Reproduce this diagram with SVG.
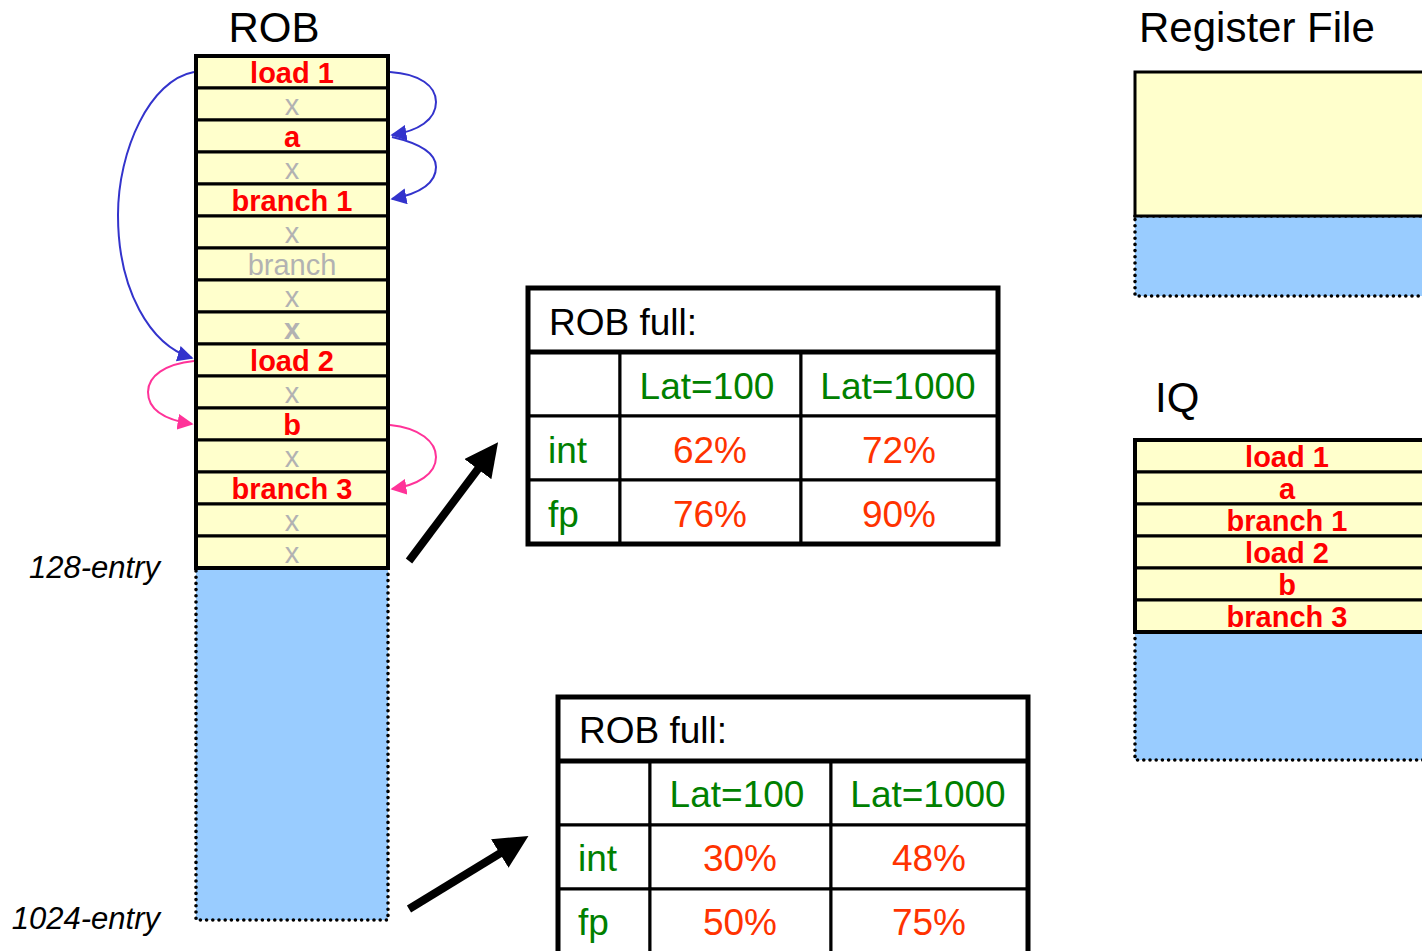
<svg xmlns="http://www.w3.org/2000/svg" width="1422" height="951" viewBox="0 0 1422 951">
  <defs>
    <style>
      .title { font-family: "Liberation Sans", Arial, sans-serif; font-size: 42px; fill: #000; }
      .cell { fill: #FFFFCC; stroke: #000; stroke-width: 3; }
      .ext { fill: #99CCFF; stroke: #000; stroke-width: 3.6; stroke-dasharray: 0 6.2; stroke-linecap: round; }
      .frame { fill: none; stroke: #000; stroke-width: 4; }
      .op { font-family: "Liberation Sans", Arial, sans-serif; font-size: 29px; font-weight: bold; fill: #FF0000; text-anchor: middle; }
      .nop { font-family: "Liberation Sans", Arial, sans-serif; font-size: 29px; fill: #B2B2B2; text-anchor: middle; }
      .size { font-family: "Liberation Sans", Arial, sans-serif; font-size: 31px; font-style: italic; fill: #000; text-anchor: end; }
      .tbl { fill: #fff; stroke: #000; stroke-width: 3; }
      .tout { fill: none; stroke: #000; stroke-width: 5; }
      .thead { font-family: "Liberation Sans", Arial, sans-serif; font-size: 37px; fill: #000; }
      .tg { font-family: "Liberation Sans", Arial, sans-serif; font-size: 37px; fill: #008000; }
      .tgc { font-family: "Liberation Sans", Arial, sans-serif; font-size: 37px; fill: #008000; text-anchor: middle; }
      .tr { font-family: "Liberation Sans", Arial, sans-serif; font-size: 37px; fill: #FF3300; text-anchor: middle; }
      .dep-b { fill: none; stroke: #3333CC; stroke-width: 2; }
      .dep-p { fill: none; stroke: #FF3399; stroke-width: 2; }
      .big { fill: none; stroke: #000; stroke-width: 8; }
    </style>
    <marker id="ahB2" viewBox="0 0 10 10" refX="9" refY="5" markerWidth="16" markerHeight="16" markerUnits="userSpaceOnUse" orient="auto">
      <path d="M0,0 L10,5 L0,10 z" fill="#3333CC"/>
    </marker>
    <marker id="ahP" viewBox="0 0 10 10" refX="9" refY="5" markerWidth="16" markerHeight="16" markerUnits="userSpaceOnUse" orient="auto">
      <path d="M0,0 L10,5 L0,10 z" fill="#FF3399"/>
    </marker>
    <marker id="ahK" viewBox="0 0 10 10" refX="6" refY="5" markerWidth="4.2" markerHeight="4.2" orient="auto">
      <path d="M0,0 L10,5 L0,10 z" fill="#000"/>
    </marker>
  </defs>

  <!-- Reorder buffer -->
  <g id="rob">
    <text class="title" x="274" y="42" text-anchor="middle">ROB</text>
    <rect class="ext" x="196" y="568" width="192" height="352"/>
    <rect class="cell" x="196" y="56" width="192" height="32"/>
    <rect class="cell" x="196" y="88" width="192" height="32"/>
    <rect class="cell" x="196" y="120" width="192" height="32"/>
    <rect class="cell" x="196" y="152" width="192" height="32"/>
    <rect class="cell" x="196" y="184" width="192" height="32"/>
    <rect class="cell" x="196" y="216" width="192" height="32"/>
    <rect class="cell" x="196" y="248" width="192" height="32"/>
    <rect class="cell" x="196" y="280" width="192" height="32"/>
    <rect class="cell" x="196" y="312" width="192" height="32"/>
    <rect class="cell" x="196" y="344" width="192" height="32"/>
    <rect class="cell" x="196" y="376" width="192" height="32"/>
    <rect class="cell" x="196" y="408" width="192" height="32"/>
    <rect class="cell" x="196" y="440" width="192" height="32"/>
    <rect class="cell" x="196" y="472" width="192" height="32"/>
    <rect class="cell" x="196" y="504" width="192" height="32"/>
    <rect class="cell" x="196" y="536" width="192" height="32"/>
    <rect class="frame" x="196" y="56" width="192" height="512"/>
    <text class="op" x="292" y="83">load 1</text>
    <text class="nop" x="292" y="115">x</text>
    <text class="op" x="292" y="147">a</text>
    <text class="nop" x="292" y="179">x</text>
    <text class="op" x="292" y="211">branch 1</text>
    <text class="nop" x="292" y="243">x</text>
    <text class="nop" x="292" y="275">branch</text>
    <text class="nop" x="292" y="307">x</text>
    <text class="nop" x="292" y="339" font-weight="bold">x</text>
    <text class="op" x="292" y="371">load 2</text>
    <text class="nop" x="292" y="403">x</text>
    <text class="op" x="292" y="435">b</text>
    <text class="nop" x="292" y="467">x</text>
    <text class="op" x="292" y="499">branch 3</text>
    <text class="nop" x="292" y="531">x</text>
    <text class="nop" x="292" y="563">x</text>
  </g>

  <g id="rob-sizes">
    <text class="size" x="160" y="578">128-entry</text>
    <text class="size" x="160" y="929">1024-entry</text>
  </g>

  <!-- Register file -->
  <g id="regfile">
    <text class="title" x="1139" y="42">Register File</text>
    <rect class="ext" x="1135" y="216" width="300" height="80"/>
    <rect class="cell" x="1135" y="72" width="300" height="144" stroke-width="4"/>
  </g>

  <!-- Issue queue -->
  <g id="iq">
    <text class="title" x="1155" y="412">IQ</text>
    <rect class="ext" x="1135" y="632" width="300" height="128"/>
    <rect class="cell" x="1135" y="440" width="300" height="32"/>
    <rect class="cell" x="1135" y="472" width="300" height="32"/>
    <rect class="cell" x="1135" y="504" width="300" height="32"/>
    <rect class="cell" x="1135" y="536" width="300" height="32"/>
    <rect class="cell" x="1135" y="568" width="300" height="32"/>
    <rect class="cell" x="1135" y="600" width="300" height="32"/>
    <rect class="frame" x="1135" y="440" width="300" height="192"/>
    <text class="op" x="1287" y="467">load 1</text>
    <text class="op" x="1287" y="499">a</text>
    <text class="op" x="1287" y="531">branch 1</text>
    <text class="op" x="1287" y="563">load 2</text>
    <text class="op" x="1287" y="595">b</text>
    <text class="op" x="1287" y="627">branch 3</text>
  </g>

  <!-- Table: 128-entry ROB -->
  <g id="table-128">
    <rect class="tbl" x="528" y="352" width="92" height="64"/>
    <rect class="tbl" x="620" y="352" width="181" height="64"/>
    <rect class="tbl" x="801" y="352" width="197" height="64"/>
    <rect class="tbl" x="528" y="416" width="92" height="64"/>
    <rect class="tbl" x="620" y="416" width="181" height="64"/>
    <rect class="tbl" x="801" y="416" width="197" height="64"/>
    <rect class="tbl" x="528" y="480" width="92" height="64"/>
    <rect class="tbl" x="620" y="480" width="181" height="64"/>
    <rect class="tbl" x="801" y="480" width="197" height="64"/>
    <rect class="tbl" x="528" y="288" width="470" height="64"/>
    <line x1="528" y1="352" x2="998" y2="352" stroke="#000" stroke-width="5"/>
    <rect class="tout" x="528" y="288" width="470" height="256"/>
    <text class="thead" x="549" y="335">ROB full:</text>
    <text class="tgc" x="707" y="399">Lat=100</text>
    <text class="tgc" x="898" y="399">Lat=1000</text>
    <text class="tg" x="548" y="463">int</text>
    <text class="tr" x="710" y="463">62%</text>
    <text class="tr" x="899" y="463">72%</text>
    <text class="tg" x="548" y="527">fp</text>
    <text class="tr" x="710" y="527">76%</text>
    <text class="tr" x="899" y="527">90%</text>
  </g>

  <!-- Table: 1024-entry ROB -->
  <g id="table-1024">
    <rect class="tbl" x="558" y="761" width="92" height="64"/>
    <rect class="tbl" x="650" y="761" width="181" height="64"/>
    <rect class="tbl" x="831" y="761" width="197" height="64"/>
    <rect class="tbl" x="558" y="825" width="92" height="64"/>
    <rect class="tbl" x="650" y="825" width="181" height="64"/>
    <rect class="tbl" x="831" y="825" width="197" height="64"/>
    <rect class="tbl" x="558" y="889" width="92" height="70"/>
    <rect class="tbl" x="650" y="889" width="181" height="70"/>
    <rect class="tbl" x="831" y="889" width="197" height="70"/>
    <rect class="tbl" x="558" y="697" width="470" height="64"/>
    <line x1="558" y1="761" x2="1028" y2="761" stroke="#000" stroke-width="5"/>
    <rect class="tout" x="558" y="697" width="470" height="270"/>
    <text class="thead" x="579" y="743">ROB full:</text>
    <text class="tgc" x="737" y="807">Lat=100</text>
    <text class="tgc" x="928" y="807">Lat=1000</text>
    <text class="tg" x="578" y="871">int</text>
    <text class="tr" x="740" y="871">30%</text>
    <text class="tr" x="929" y="871">48%</text>
    <text class="tg" x="578" y="935">fp</text>
    <text class="tr" x="740" y="935">50%</text>
    <text class="tr" x="929" y="935">75%</text>
  </g>

  <!-- Dependences and pointers -->
  <g id="connectors">
    <path class="dep-b" d="M390,72 C420,74 436,86 436,102 C436,120 418,131 392,135" marker-end="url(#ahB2)"/>
    <path class="dep-b" d="M392,137 C418,143 436,152 436,167 C436,184 418,194 392,199" marker-end="url(#ahB2)"/>
    <path class="dep-b" d="M194,72 C150,80 118,150 118,215 C118,290 150,345 192,358" marker-end="url(#ahB2)"/>
    <path class="dep-p" d="M194,361 C165,364 148,376 148,392 C148,410 166,420 192,424" marker-end="url(#ahP)"/>
    <path class="dep-p" d="M390,425 C420,428 436,442 436,457 C436,474 418,485 392,489" marker-end="url(#ahP)"/>
    <path class="big" d="M409,561 L490,453" marker-end="url(#ahK)"/>
    <path class="big" d="M409,909 L517,843" marker-end="url(#ahK)"/>
  </g>
</svg>
